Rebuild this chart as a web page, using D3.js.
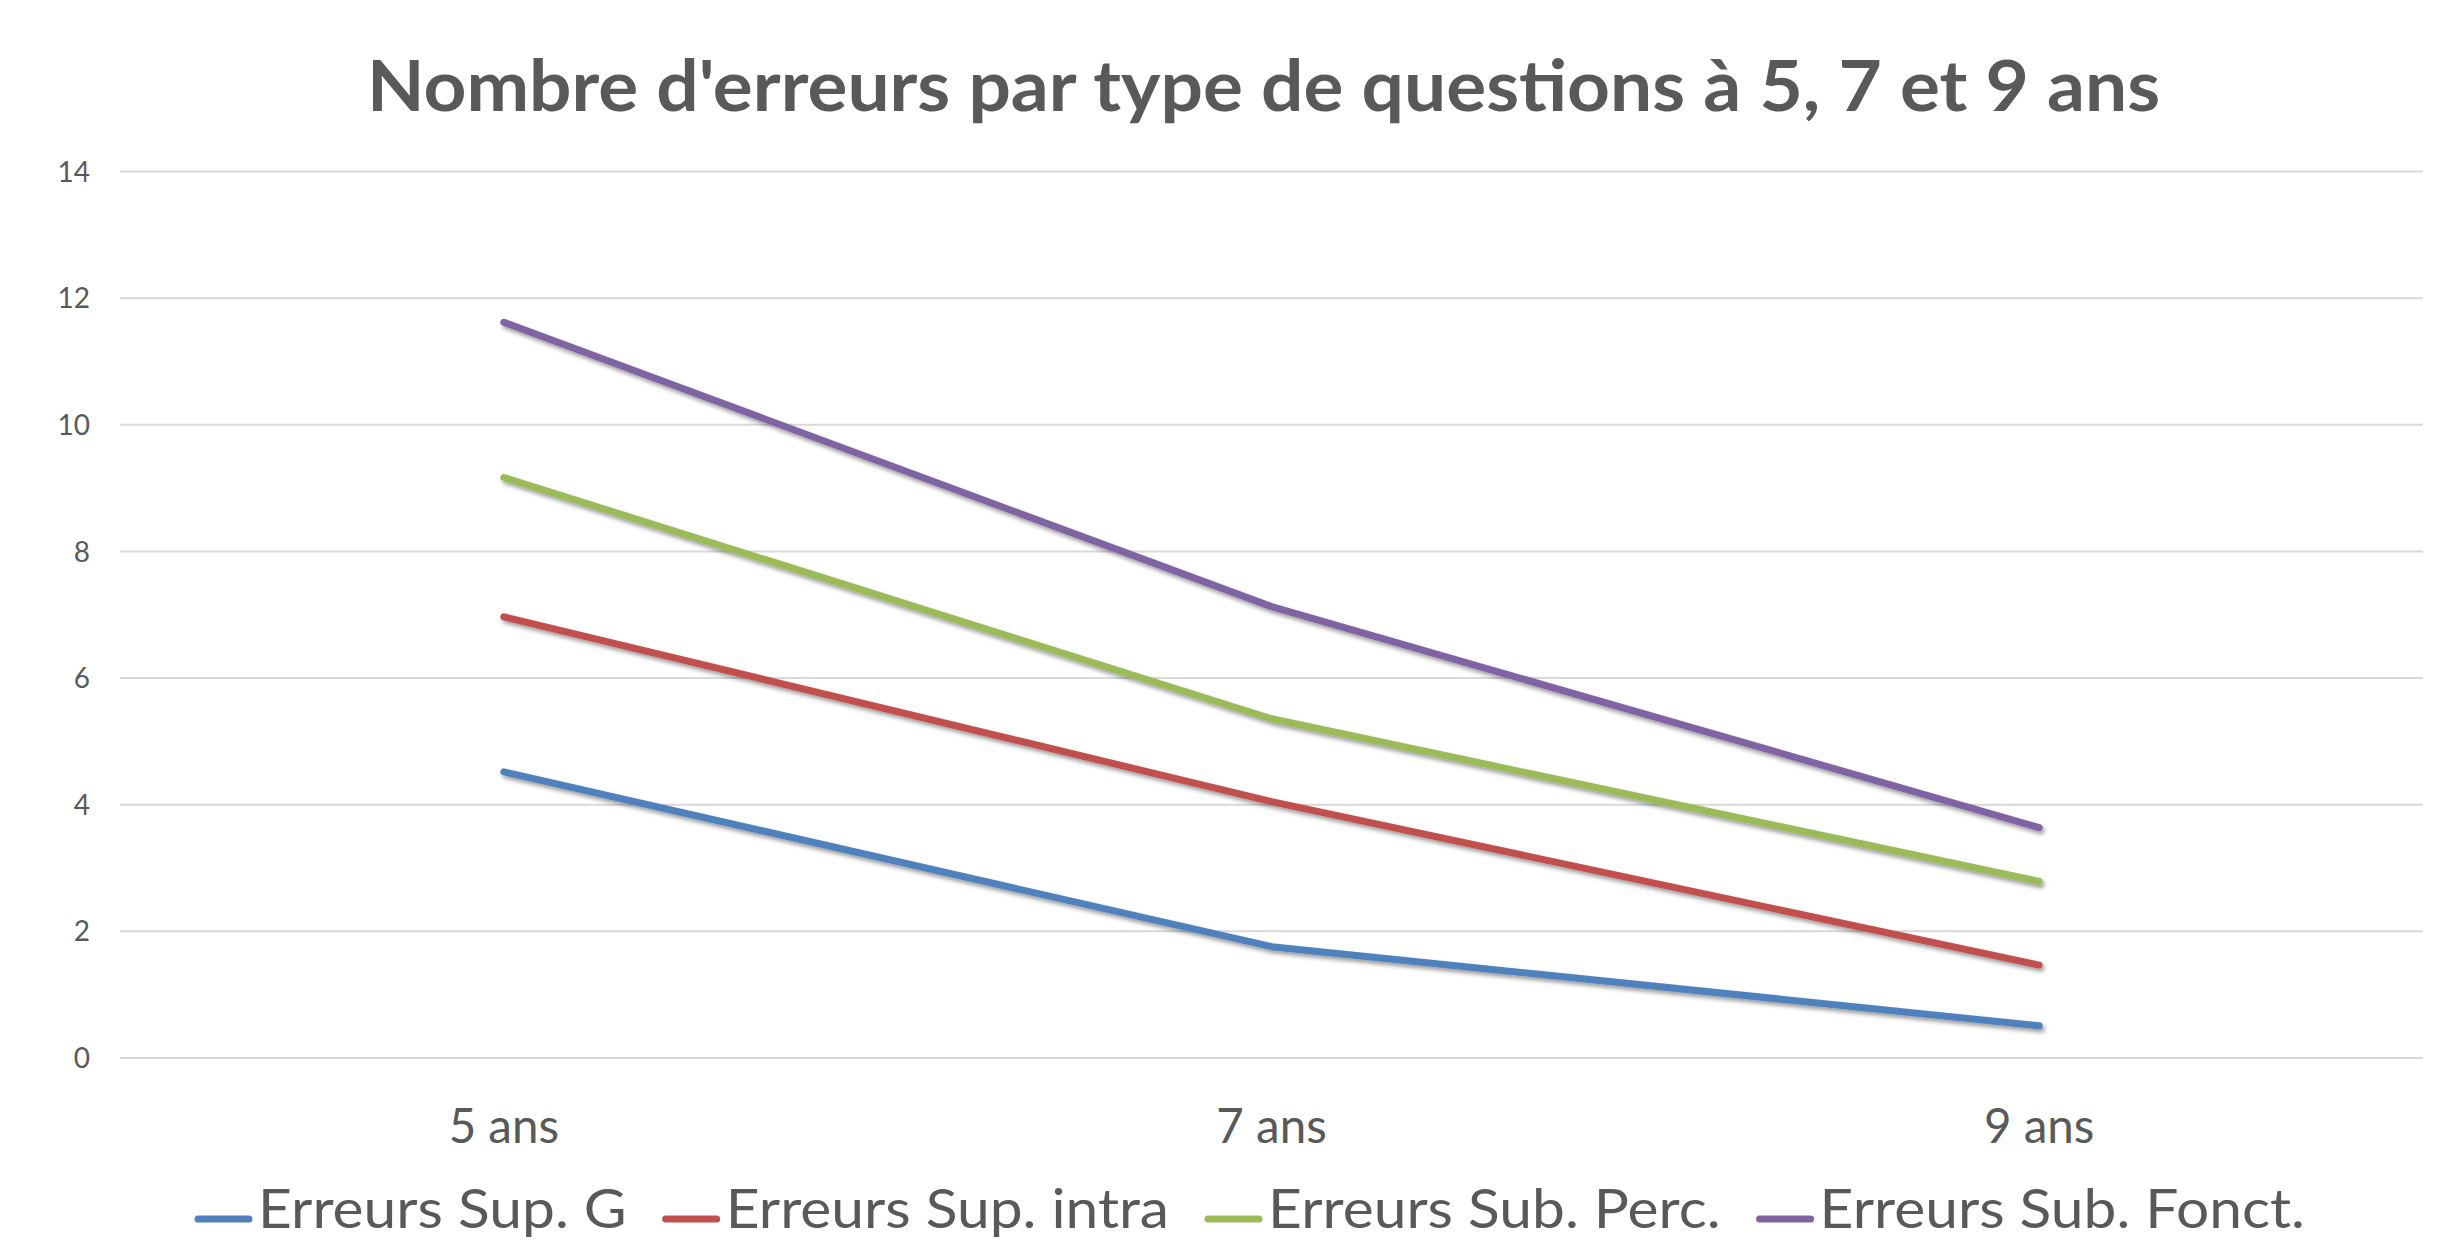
<!DOCTYPE html>
<html>
<head>
<meta charset="utf-8">
<script src="https://cdn.jsdelivr.net/npm/d3@7"></script>
<style>
  html, body { margin: 0; padding: 0; background: #fff; }
  svg { display: block; font-family: Lato, "Open Sans", sans-serif; }
</style>
</head>
<body>
<div id="chart"></div>
<script>
const title = "Nombre d'erreurs par type de questions à 5, 7 et 9 ans";
const categories = ["5 ans", "7 ans", "9 ans"];
const seriesNames = ["Erreurs Sup. G", "Erreurs Sup. intra", "Erreurs Sub. Perc.", "Erreurs Sub. Fonct."];
const supG = [4.51, 1.75, 0.50];
const supIntra = [6.96, 4.04, 1.46];
const subPerc = [9.16, 5.35, 2.78];
const subFonct = [11.61, 7.12, 3.63];
const yTicks = [0, 2, 4, 6, 8, 10, 12, 14];
const colors = ["#4F81BD", "#C0504D", "#9BBB59", "#8064A2"];

const width = 2442;
const height = 1242;
const margin = {top: 171, right: 19, bottom: 184.5, left: 120};
const textColor = "#595959";

const series = [supG, supIntra, subPerc, subFonct].map((vals, i) => ({
    name: seriesNames[i],
    values: vals.map((v, j) => ({cat: categories[j], value: v}))
}));

const svg = d3.select("#chart")
    .append("svg")
    .attr("width", width)
    .attr("height", height);

// shadow under the lines, like the office look
const filter = svg.append("defs")
    .append("filter")
    .attr("id", "shadow")
    .attr("x", "-10%").attr("y", "-10%")
    .attr("width", "120%").attr("height", "130%");
filter.append("feDropShadow")
    .attr("dx", 2)
    .attr("dy", 3)
    .attr("stdDeviation", 2)
    .attr("flood-color", "#000")
    .attr("flood-opacity", 0.4);

const x = d3.scaleBand()
    .domain(categories)
    .range([margin.left, width - margin.right]);

const y = d3.scaleLinear()
    .domain([0, 14])
    .range([height - margin.bottom, margin.top]);

const plotWidth = width - margin.right - margin.left;

// y axis + gridlines
const yAxis = svg.append("g")
    .attr("transform", "translate(" + margin.left + ",0)")
    .call(d3.axisLeft(y).tickValues(yTicks).tickSize(-plotWidth).tickPadding(30));
yAxis.select(".domain").remove();
yAxis.selectAll(".tick line")
    .attr("stroke", "#D9D9D9")
    .attr("stroke-width", 2);
yAxis.selectAll(".tick text")
    .attr("fill", textColor)
    .attr("font-size", "28px")
    .attr("font-family", "Lato, sans-serif")
    .attr("dy", "0.36em");

// x axis labels
const xAxis = svg.append("g")
    .attr("transform", "translate(0," + (height - margin.bottom) + ")")
    .call(d3.axisBottom(x).tickSize(0).tickPadding(52));
xAxis.select(".domain").remove();
xAxis.selectAll(".tick text")
    .attr("fill", textColor)
    .attr("font-size", "47.5px")
    .attr("font-family", "Lato, sans-serif");

const line = d3.line()
    .x(d => x(d.cat) + x.bandwidth() / 2)
    .y(d => y(d.value));

svg.append("g")
    .selectAll("path")
    .data(series)
    .enter()
    .append("path")
    .attr("d", d => line(d.values))
    .attr("fill", "none")
    .attr("stroke", (d, i) => colors[i])
    .attr("stroke-width", 7)
    .attr("stroke-linecap", "round")
    .attr("stroke-linejoin", "round")
    .attr("filter", "url(#shadow)");

// title
svg.append("text")
    .attr("x", 1263.5)
    .attr("y", 111)
    .attr("text-anchor", "middle")
    .attr("fill", textColor)
    .attr("font-weight", "bold")
    .attr("font-size", "70px")
    .attr("textLength", 1793)
    .attr("lengthAdjust", "spacingAndGlyphs")
    .text(title);

// legend (raised a little so the descenders stay inside the picture)
const legendY = 1228;
const swatchW = 57;
const swatchGap = 6;
const itemGap = 36;
const legendLeft = 195;
const legendRight = 2305;

const legend = svg.append("g").attr("class", "legend");
const items = legend.selectAll("g")
    .data(series)
    .enter()
    .append("g");

items.append("line")
    .attr("stroke", (d, i) => colors[i])
    .attr("stroke-width", 7)
    .attr("stroke-linecap", "round");

items.append("text")
    .attr("fill", textColor)
    .attr("font-size", "54px")
    .attr("y", legendY)
    .text(d => d.name);

const natural = [];
items.select("text").each(function() { natural.push(this.getComputedTextLength()); });
const textSpace = (legendRight - legendLeft) - series.length * (swatchW + swatchGap) - (series.length - 1) * itemGap;
const k = textSpace / d3.sum(natural);

let cx = legendLeft;
items.each(function(d, i) {
    const g = d3.select(this);
    g.select("line")
        .attr("x1", cx + 3).attr("x2", cx + swatchW - 3)
        .attr("y1", legendY - 9).attr("y2", legendY - 9);
    g.select("text")
        .attr("x", cx + swatchW + swatchGap)
        .attr("textLength", natural[i] * k)
        .attr("lengthAdjust", "spacingAndGlyphs");
    cx += swatchW + swatchGap + natural[i] * k + itemGap;
});
</script>
</body>
</html>
